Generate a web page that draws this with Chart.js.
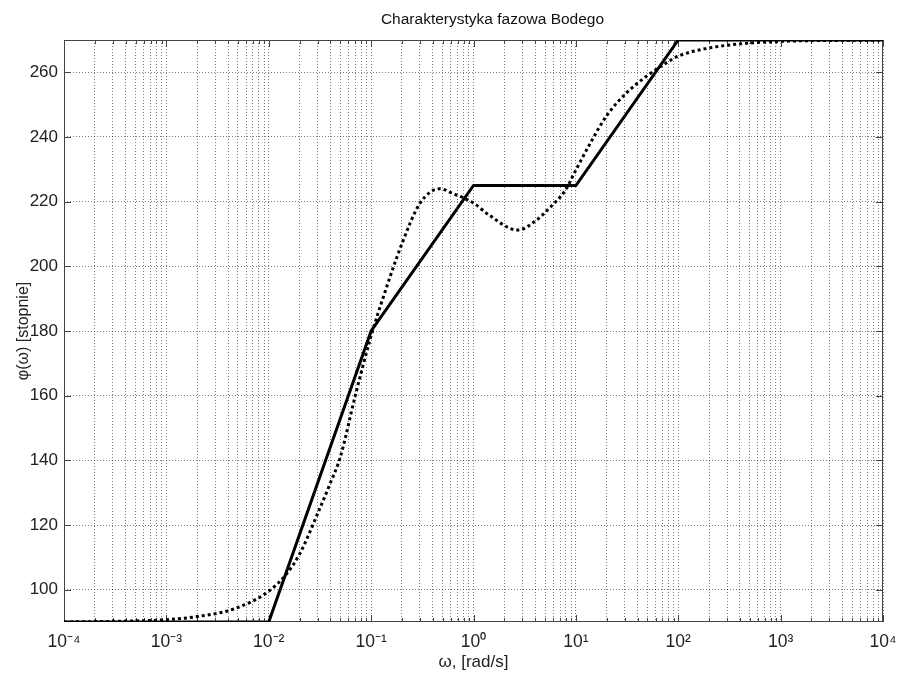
<!DOCTYPE html>
<html>
<head>
<meta charset="utf-8">
<title>Charakterystyka fazowa Bodego</title>
<script src="https://cdn.jsdelivr.net/npm/chart.js@4"></script>
<style>
  html, body { margin: 0; padding: 0; background: #fff; }
</style>
</head>
<body>
<canvas id="bode" width="900" height="678"></canvas>
<script>
// decades on the log axis and their labels
const decades = [-4, -3, -2, -1, 0, 1, 2, 3, 4];
const xTickLabels = ['10⁻⁴', '10⁻³', '10⁻²', '10⁻¹', '10⁰', '10¹', '10²', '10³', '10⁴'];
const yTicks = [100, 120, 140, 160, 180, 200, 220, 240, 260];

// asymptotic (solid) phase
const asymW = [1e-4, 1e-2, 1e-1, 1, 10, 100, 1e4];
const asymPhase = [90, 90, 180, 225, 225, 270, 270];

// exact (dotted) phase
const exactW = [1e-4, 3e-4, 1e-3, 2e-3, 4.5e-3, 1e-2, 1.5e-2, 2e-2, 3e-2, 4e-2, 5e-2, 7e-2, 0.1, 0.13, 0.2, 0.3, 0.47, 0.63, 1, 1.4, 2.7, 4.2, 5.3, 7.9, 10, 14, 20, 31.6, 50, 77, 100, 190, 400, 850, 1e4];
const exactPhase = [90, 90.2, 90.7, 91.7, 94, 99.5, 105, 111, 123.5, 133, 141, 160, 178.5, 190, 207, 219.5, 224, 222.5, 219.6, 216, 211.2, 214.5, 217.5, 223.6, 229.8, 238.4, 246.6, 253.8, 259, 263, 265, 267.4, 268.8, 269.5, 270];

const chartTitle = 'Charakterystyka fazowa Bodego';
const fontName = '"Liberation Sans", Arial, sans-serif';

function isDecade(v) {
    const l = Math.log10(v);
    return Math.abs(l - Math.round(l)) < 1e-9;
}

// ramka wokol wykresu + male znaczniki do srodka (jak w matlabie)
const framePlugin = {
    id: 'frame',
    beforeDatasetsDraw(chart) {
        const { ctx, chartArea: a, scales: { x, y } } = chart;
        ctx.save();
        ctx.strokeStyle = '#444';
        ctx.lineWidth = 1;
        ctx.strokeRect(a.left + 0.5, a.top + 0.5, a.right - a.left - 1, a.bottom - a.top - 1);
        ctx.beginPath();
        x.ticks.forEach(t => {
            const px = Math.round(x.getPixelForValue(t.value)) + 0.5;
            const len = isDecade(t.value) ? 7 : 4;
            ctx.moveTo(px, a.bottom); ctx.lineTo(px, a.bottom - len);
            ctx.moveTo(px, a.top); ctx.lineTo(px, a.top + len);
        });
        y.ticks.forEach(t => {
            const py = Math.round(y.getPixelForValue(t.value)) + 0.5;
            ctx.moveTo(a.left, py); ctx.lineTo(a.left + 7, py);
            ctx.moveTo(a.right, py); ctx.lineTo(a.right - 7, py);
        });
        ctx.stroke();
        ctx.restore();
    },
    afterDraw(chart) {
        // tytul troche na prawo od srodka, jak w oryginale
        const { ctx, chartArea: a } = chart;
        ctx.save();
        ctx.fillStyle = '#111';
        ctx.font = '15.5px ' + fontName;
        ctx.textAlign = 'center';
        ctx.textBaseline = 'middle';
        ctx.fillText(chartTitle, (a.left + a.right) / 2 + 19, 20);
        ctx.restore();
    }
};

const asymData = asymW.map((w, i) => ({ x: w, y: asymPhase[i] }));
const exactData = exactW.map((w, i) => ({ x: w, y: exactPhase[i] }));

new Chart(document.getElementById('bode'), {
    type: 'line',
    data: {
        datasets: [
            {
                label: 'asymptotyczna',
                data: asymData,
                borderColor: '#000',
                borderWidth: 3,
                pointRadius: 0,
                tension: 0
            },
            {
                label: 'dokladna',
                data: exactData,
                borderColor: '#000',
                borderWidth: 3,
                borderDash: [3, 3],
                pointRadius: 0,
                cubicInterpolationMode: 'monotone'
            }
        ]
    },
    options: {
        responsive: false,
        animation: false,
        devicePixelRatio: 1,
        layout: { padding: { left: 0, right: 17, top: 40, bottom: 0 } },
        plugins: {
            legend: { display: false },
            tooltip: { enabled: false },
            title: { display: false }
        },
        scales: {
            x: {
                type: 'logarithmic',
                min: 1e-4,
                max: 1e4,
                afterBuildTicks: scale => {
                    const t = [];
                    decades.forEach((d, i) => {
                        for (let k = 1; k <= 9; k++) {
                            if (i === decades.length - 1 && k > 1) break;
                            t.push({ value: k * Math.pow(10, d) });
                        }
                    });
                    scale.ticks = t;
                },
                afterFit: scale => {
                    scale.height = 56;
                    scale.paddingLeft = 0;
                    scale.paddingRight = 0;
                },
                grid: { color: 'rgba(0,0,0,0.5)', lineWidth: 1, drawTicks: false },
                border: { display: false, dash: [1, 2] },
                ticks: {
                    autoSkip: false,
                    maxRotation: 0,
                    padding: 10,
                    color: '#222',
                    font: { family: fontName, size: 17.5 },
                    callback: value => {
                        if (!isDecade(value)) return '';
                        const idx = decades.indexOf(Math.round(Math.log10(value)));
                        return xTickLabels[idx];
                    }
                },
                title: {
                    display: true,
                    text: 'ω, [rad/s]',
                    color: '#222',
                    font: { family: fontName, size: 17 },
                    padding: { top: 0, bottom: 5 }
                }
            },
            y: {
                min: 90,
                max: 270,
                afterBuildTicks: scale => { scale.ticks = yTicks.map(v => ({ value: v })); },
                afterFit: scale => { scale.width = 64; },
                grid: { color: 'rgba(0,0,0,0.5)', lineWidth: 1, drawTicks: false },
                border: { display: false, dash: [1, 2] },
                ticks: {
                    padding: 6,
                    color: '#222',
                    font: { family: fontName, size: 17 }
                },
                title: {
                    display: true,
                    text: 'φ(ω) [stopnie]',
                    color: '#222',
                    font: { family: fontName, size: 16 },
                    padding: { top: 13.5, bottom: 0 }
                }
            }
        }
    },
    plugins: [framePlugin]
});
</script>
</body>
</html>
